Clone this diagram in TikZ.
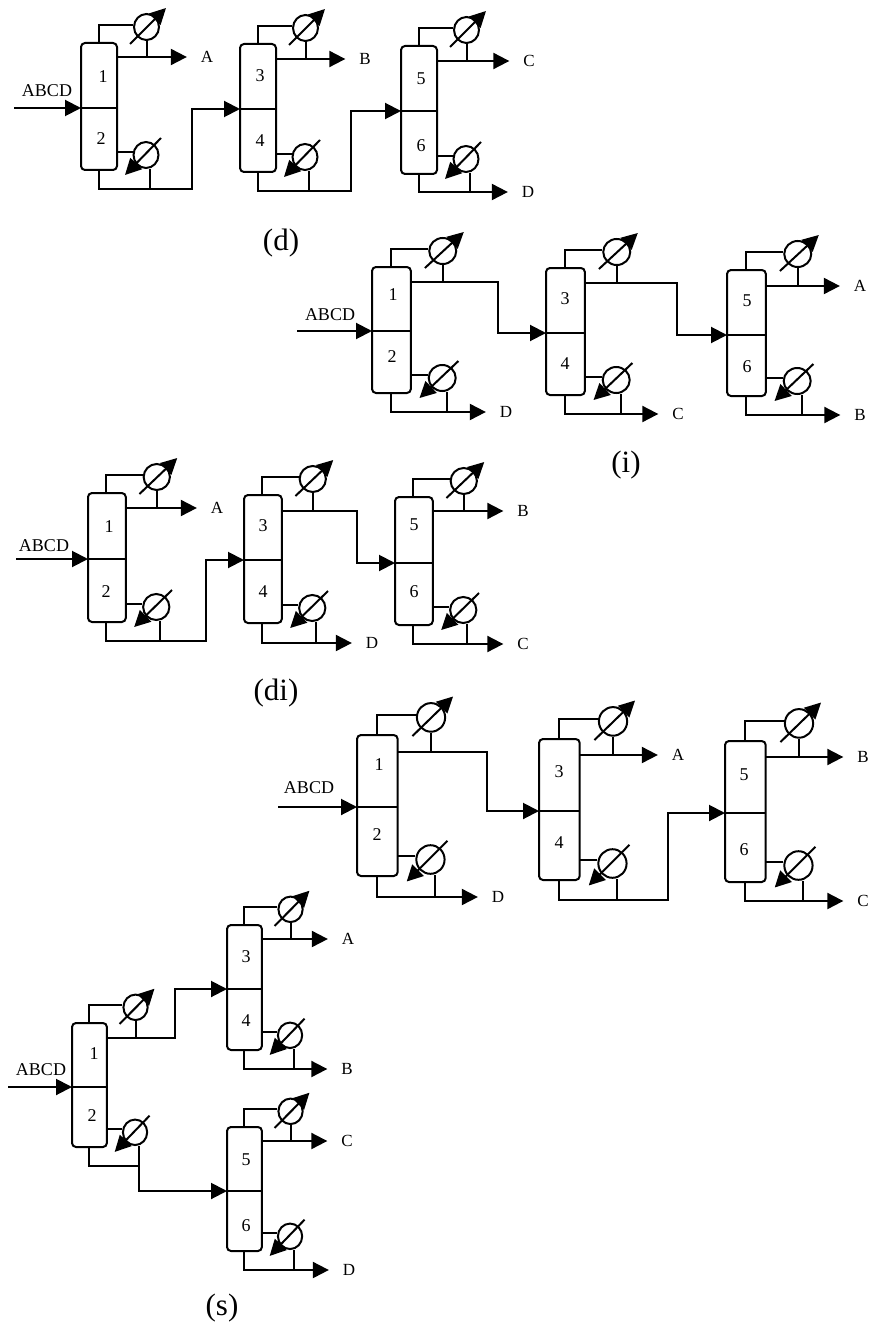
\documentclass[tikz,border=0pt]{standalone}
\usepackage{fontspec}
\setmainfont{Liberation Serif}
\usetikzlibrary{shapes.geometric, arrows.meta}

\tikzset{
  colbody/.style={rectangle, rounded corners=4pt, draw=black, line width=2pt, inner sep=0pt},
  exch/.style={ellipse, draw=black, line width=2pt, inner sep=0pt,
               minimum width={25pt*\fx}, minimum height={26pt*\fy}},
  pipe/.style={line width=2pt, draw=black},
  stream/.style={-{Triangle[length=16pt, width=16pt]}, line width=2pt, draw=black},
  numlabel/.style={font=\fontsize{18}{18}\selectfont, inner sep=0pt},
  prod/.style={font=\fontsize{17}{17}\selectfont, inner sep=0pt, outer xsep=14pt},
  feedlabel/.style={font=\fontsize{18}{18}\selectfont, inner sep=0pt},
  capt/.style={font=\fontsize{31}{31}\selectfont, inner sep=0pt},
}

% name, left, top, middle, bottom, overhead y, bottoms y
\newcommand{\colunit}[7]{%
  \node[colbody, minimum width={36pt*\fx}, minimum height={(#5-#3)*1pt}] (#1) at ({#2+18*\fx},{(#3+#5)/2}) {};
  \coordinate (#1f) at (#2,#4);
  \coordinate (#1m) at ({#2+36*\fx},#4);
  \draw[pipe] (#1f) -- (#1m);
  % condenser
  \node[exch] (#1c) at ({#2+65.5*\fx},{#3-16*\fy}) {};
  \coordinate (#1t) at ({#2+17.5*\fx},{#3-18*\fy});
  \coordinate (#1v) at ({#2+65.5*\fx},#6);
  \coordinate (#1vs) at ({#2+36*\fx},#6);
  \coordinate (#1cs) at ({#2+49*\fx},{#3+1*\fy});
  \coordinate (#1ce) at ({#2+85*\fx},{#3-35*\fy});
  \draw[pipe] (#1t |- #1.north) -- (#1t) -- (#1t -| #1c.west);
  \draw[pipe] (#1c.south) -- (#1v);
  \draw[pipe] (#1vs) -- (#1v);
  \draw[stream] (#1cs) -- (#1ce);
  % reboiler
  \node[exch] (#1r) at ({#2+65*\fx},{#5-15*\fy}) {};
  \coordinate (#1l) at ({#2+36*\fx},{#5-18*\fy});
  \coordinate (#1d) at ({#2+69*\fx},#7);
  \coordinate (#1b0) at ({#2+17.5*\fx},#7);
  \coordinate (#1rs) at ({#2+80*\fx},{#5-32*\fy});
  \coordinate (#1re) at ({#2+44*\fx},{#5+5*\fy});
  \draw[pipe] (#1l) -- (#1l -| #1r.west);
  \draw[pipe] (#1d |- #1r.south) -- (#1d);
  \draw[pipe] (#1b0 |- #1.south) -- (#1b0) -- (#1d);
  \draw[stream] (#1rs) -- (#1re);
}

\begin{document}
\begin{tikzpicture}[x=1pt, y=-1pt]
\useasboundingbox (0,0) rectangle (875,1332);

% Panel d
\def\fx{1}\def\fy{1}
\colunit{d1}{81}{43}{108}{170}{57}{189}
\colunit{d2}{240}{44}{109}{172}{59}{191}
\colunit{d3}{401}{46}{111}{174}{61}{192}
\foreach \n/\x/\y in {1/103/77, 2/101/139, 3/260/76, 4/260/141, 5/421/79, 6/421/146}
  \node[numlabel] (dn\n) at (\x,\y) {\n};
\node[feedlabel] (d0) at (47,91) {ABCD};
\coordinate (d0s) at (14,108);
\draw[stream] (d0s) -- (d1f);
\coordinate (d12) at (192,150);
\coordinate (d23) at (351,150);
\draw[stream] (d1d) -| (d12) |- (d2f);
\draw[stream] (d2d) -| (d23) |- (d3f);
\node[prod] (d1A) at (207,57) {A};
\node[prod] (d2B) at (365,59) {B};
\node[prod] (d3C) at (529,61) {C};
\node[prod] (d3D) at (528,192) {D};
\draw[stream] (d1v) -- (d1v -| d1A.west);
\draw[stream] (d2v) -- (d2v -| d2B.west);
\draw[stream] (d3v) -- (d3v -| d3C.west);
\draw[stream] (d3d) -- (d3d -| d3D.west);
\node[capt] (dcap) at (281,243) {(d)};

% Panel i
\def\fx{1.08}\def\fy{1}
\colunit{i1}{372}{267}{331}{393}{282}{412}
\colunit{i2}{546}{268}{333}{395}{283}{414}
\colunit{i3}{727}{270}{335}{396}{286}{415}
\foreach \n/\x/\y in {1/393/295, 2/392/357, 3/565/299, 4/565/364, 5/747/301, 6/747/367}
  \node[numlabel] (in\n) at (\x,\y) {\n};
\node[feedlabel] (i0) at (330,315) {ABCD};
\coordinate (i0s) at (297,331);
\draw[stream] (i0s) -- (i1f);
\coordinate (i12) at (498,310);
\coordinate (i23) at (677,310);
\draw[stream] (i1v) -| (i12) |- (i2f);
\draw[stream] (i2v) -| (i23) |- (i3f);
\node[prod] (i1D) at (506,412) {D};
\node[prod] (i2C) at (678,414) {C};
\node[prod] (i3A) at (860,286) {A};
\node[prod] (i3B) at (860,415) {B};
\draw[stream] (i1d) -- (i1d -| i1D.west);
\draw[stream] (i2d) -- (i2d -| i2C.west);
\draw[stream] (i3v) -- (i3v -| i3A.west);
\draw[stream] (i3d) -- (i3d -| i3B.west);
\node[capt] (icap) at (626,465) {(i)};

% Panel di
\def\fx{1.05}\def\fy{1}
\colunit{j1}{88}{493}{559}{622}{508}{641}
\colunit{j2}{244}{495}{560}{623}{511}{643}
\colunit{j3}{395}{497}{563}{625}{511}{644}
\foreach \n/\x/\y in {1/109/527, 2/106/592, 3/263/526, 4/263/592, 5/414/525, 6/414/592}
  \node[numlabel] (jn\n) at (\x,\y) {\n};
\node[feedlabel] (j0) at (44,546) {ABCD};
\coordinate (j0s) at (16,559);
\draw[stream] (j0s) -- (j1f);
\coordinate (j12) at (206,600);
\coordinate (j23) at (357,540);
\draw[stream] (j1d) -| (j12) |- (j2f);
\draw[stream] (j2v) -| (j23) |- (j3f);
\node[prod] (j1A) at (217,508) {A};
\node[prod] (j2D) at (372,643) {D};
\node[prod] (j3B) at (523,511) {B};
\node[prod] (j3C) at (523,644) {C};
\draw[stream] (j1v) -- (j1v -| j1A.west);
\draw[stream] (j2d) -- (j2d -| j2D.west);
\draw[stream] (j3v) -- (j3v -| j3B.west);
\draw[stream] (j3d) -- (j3d -| j3C.west);
\node[capt] (jcap) at (276,693) {(di)};

% Unnamed panel
\def\fx{1.13}\def\fy{1.1}
\colunit{k1}{357}{735}{807}{876}{752}{897}
\colunit{k2}{539}{739}{811}{880}{755}{900}
\colunit{k3}{725}{741}{813}{882}{757}{901}
\foreach \n/\x/\y in {1/379/765, 2/377/835, 3/559/772, 4/559/843, 5/744/775, 6/744/850}
  \node[numlabel] (kn\n) at (\x,\y) {\n};
\node[feedlabel] (k0) at (309,788) {ABCD};
\coordinate (k0s) at (278,807);
\draw[stream] (k0s) -- (k1f);
\coordinate (k12) at (487,780);
\coordinate (k23) at (668,860);
\draw[stream] (k1v) -| (k12) |- (k2f);
\draw[stream] (k2d) -| (k23) |- (k3f);
\node[prod] (k1D) at (498,897) {D};
\node[prod] (k2A) at (678,755) {A};
\node[prod] (k3B) at (863,757) {B};
\node[prod] (k3C) at (863,901) {C};
\draw[stream] (k1d) -- (k1d -| k1D.west);
\draw[stream] (k2v) -- (k2v -| k2A.west);
\draw[stream] (k3v) -- (k3v -| k3B.west);
\draw[stream] (k3d) -- (k3d -| k3C.west);

% Panel s
\def\fx{0.97}\def\fy{0.98}
\colunit{s1}{72}{1023}{1087}{1147}{1038}{1166}
\colunit{s2}{227}{925}{989}{1050}{939}{1069}
\colunit{s3}{227}{1127}{1191}{1251}{1141}{1270}
\foreach \n/\x/\y in {1/94/1054, 2/92/1116, 3/246/957, 4/246/1021, 5/246/1160, 6/246/1226}
  \node[numlabel] (sn\n) at (\x,\y) {\n};
\node[feedlabel] (s0) at (41,1070) {ABCD};
\coordinate (s0s) at (8,1087);
\draw[stream] (s0s) -- (s1f);
\coordinate (s12) at (175,1010);
\draw[stream] (s1v) -| (s12) |- (s2f);
\draw[stream] (s1d) |- (s3f);
\node[prod] (s2A) at (348,939) {A};
\node[prod] (s2B) at (347,1069) {B};
\node[prod] (s3C) at (347,1141) {C};
\node[prod] (s3D) at (349,1270) {D};
\draw[stream] (s2v) -- (s2v -| s2A.west);
\draw[stream] (s2d) -- (s2d -| s2B.west);
\draw[stream] (s3v) -- (s3v -| s3C.west);
\draw[stream] (s3d) -- (s3d -| s3D.west);
\node[capt] (scap) at (222,1308) {(s)};
\end{tikzpicture}
\end{document}
